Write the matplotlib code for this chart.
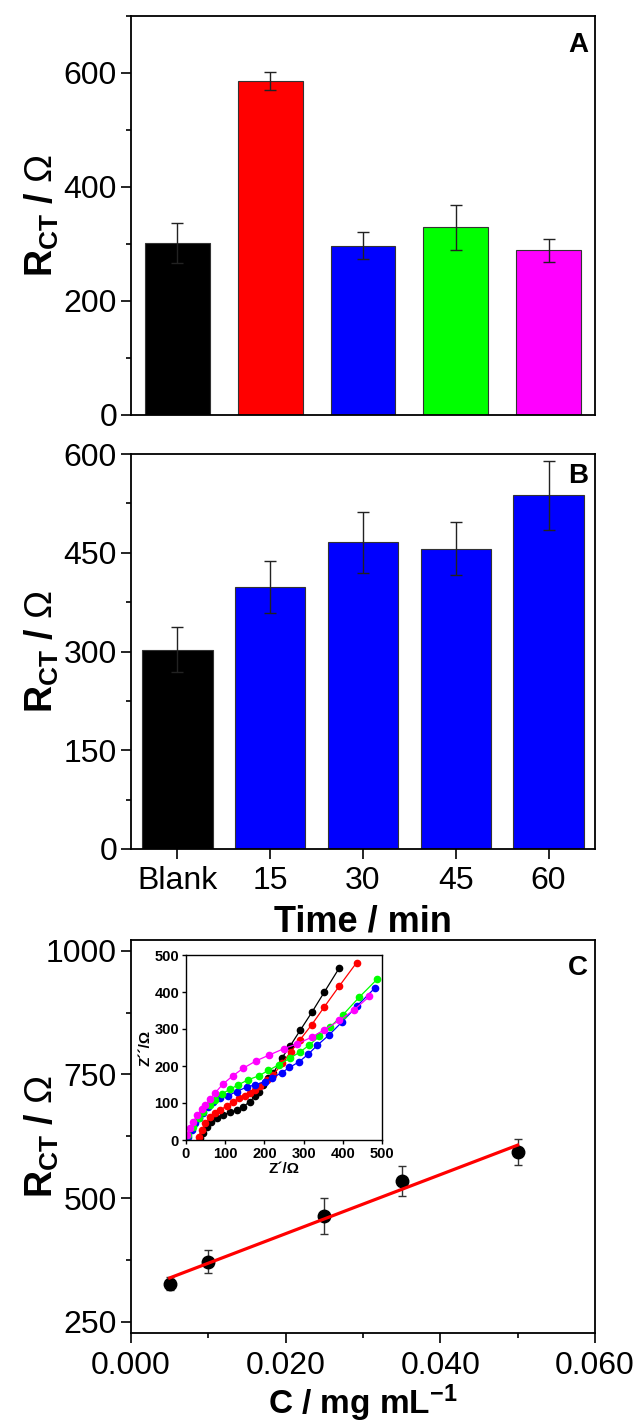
import numpy as np
import matplotlib
matplotlib.use("Agg")
import matplotlib.pyplot as plt
from matplotlib.ticker import MultipleLocator, FormatStrFormatter

plt.rcParams['font.family'] = ['Liberation Sans', 'DejaVu Sans']
plt.rcParams['mathtext.fontset'] = 'custom'
plt.rcParams['mathtext.rm'] = 'Liberation Sans'
plt.rcParams['mathtext.bf'] = 'Liberation Sans:bold'
plt.rcParams['mathtext.it'] = 'Liberation Sans:italic'

# panel A
a_vals = [302, 586, 297, 329, 289]
a_err = [35, 15, 24, 40, 20]
a_colors = ['#000000', '#ff0000', '#0000ff', '#00ff00', '#ff00ff']

# panel B
b_labels = ['Blank', '15', '30', '45', '60']
b_vals = [303, 398, 466, 456, 537]
b_err = [34, 40, 46, 40, 52]
b_colors = ['#000000', '#0000ff', '#0000ff', '#0000ff', '#0000ff']

# panel C
c_conc = [0.005, 0.010, 0.025, 0.035, 0.050]
c_rct = [327, 371, 464, 534, 593]
c_err = [14, 23, 36, 30, 27]

# inset (Nyquist plots), Z' and Z'' in ohm
black_zr = [36, 44, 53, 65, 78, 95, 112, 129, 146, 163, 176, 185, 196, 210, 223, 244, 265, 291, 321, 353, 391]
black_zi = [5, 18, 36, 50, 59, 68, 75, 81, 90, 104, 118, 131, 149, 167, 181, 221, 253, 296, 345, 400, 465]
red_zr = [32, 40, 49, 61, 74, 87, 104, 121, 136, 151, 163, 176, 189, 206, 223, 245, 267, 291, 321, 353, 391, 435]
red_zi = [9, 27, 45, 63, 72, 81, 92, 104, 113, 119, 127, 136, 145, 163, 176, 207, 238, 271, 312, 360, 416, 479]
blue_zr = [6, 15, 23, 32, 44, 57, 70, 87, 108, 129, 155, 176, 202, 219, 244, 264, 288, 312, 335, 366, 397, 437, 482]
blue_zi = [9, 27, 45, 59, 72, 90, 104, 113, 120, 131, 143, 149, 158, 167, 182, 196, 211, 232, 256, 285, 318, 363, 411]
green_zr = [6, 19, 32, 44, 60, 74, 91, 112, 133, 159, 185, 210, 236, 265, 291, 315, 340, 367, 401, 442, 487]
green_zi = [14, 36, 59, 77, 95, 108, 124, 137, 149, 163, 173, 188, 203, 221, 238, 257, 280, 305, 339, 386, 434]
mag_zr = [2, 10, 19, 29, 40, 49, 61, 74, 94, 119, 146, 179, 213, 250, 284, 321, 353, 391, 429, 468]
mag_zi = [14, 32, 50, 68, 83, 95, 110, 127, 151, 173, 194, 214, 230, 247, 260, 278, 298, 323, 352, 388]

W, H = 634, 1425
fig = plt.figure(figsize=(W / 100, H / 100), dpi=100)


def box(l, t, r, b):
    return [l / W, 1 - b / H, (r - l) / W, (b - t) / H]


def style(ax):
    for s in ax.spines.values():
        s.set_linewidth(1.3)
    ax.tick_params(which='both', direction='out', width=1.2, labelsize=23, pad=3,
                   top=False, right=False)
    ax.tick_params(which='major', length=7)
    ax.tick_params(which='minor', length=3.5)


ylab = r'$\mathbf{R_{CT}\ /\ }\Omega$'

# ---- A
axA = fig.add_axes(box(131, 16, 595, 415))
style(axA)
x = np.arange(len(a_vals))
axA.bar(x, a_vals, width=0.7, color=a_colors, edgecolor='#333333', linewidth=0.8,
        yerr=a_err, error_kw=dict(ecolor='#222222', elinewidth=1, capsize=4, capthick=1))
axA.set_xlim(-0.5, 4.5)
axA.set_ylim(0, 700)
axA.yaxis.set_major_locator(MultipleLocator(200))
axA.yaxis.set_minor_locator(MultipleLocator(100))
axA.set_xticks([])
axA.set_ylabel(ylab, fontsize=27)
axA.yaxis.set_label_coords(-0.15, 0.5)
axA.text(0.985, 0.96, 'A', transform=axA.transAxes, ha='right', va='top',
         fontsize=20, fontweight='bold')

# ---- B
axB = fig.add_axes(box(131, 454, 595, 849))
style(axB)
x = np.arange(len(b_vals))
axB.bar(x, b_vals, width=0.76, color=b_colors, edgecolor='#333333', linewidth=0.8,
        yerr=b_err, error_kw=dict(ecolor='#222222', elinewidth=1, capsize=4, capthick=1))
axB.set_xlim(-0.5, 4.5)
axB.set_ylim(0, 600)
axB.yaxis.set_major_locator(MultipleLocator(150))
axB.yaxis.set_minor_locator(MultipleLocator(75))
axB.set_xticks(x)
axB.set_xticklabels(b_labels)
axB.tick_params(axis='x', pad=5)
axB.set_xlabel('Time / min', fontsize=26, fontweight='bold', labelpad=6)
axB.set_ylabel(ylab, fontsize=27)
axB.yaxis.set_label_coords(-0.15, 0.5)
axB.text(0.985, 0.977, 'B', transform=axB.transAxes, ha='right', va='top',
         fontsize=20, fontweight='bold')

# ---- C
axC = fig.add_axes(box(131, 940, 595, 1333))
style(axC)
axC.errorbar(c_conc, c_rct, yerr=c_err, fmt='o', color='black', ms=9,
             ecolor='#333333', elinewidth=1, capsize=3, capthick=1, zorder=2)
k, b0 = np.polyfit(c_conc, c_rct, 1)
xf = np.array([min(c_conc), max(c_conc)])
axC.plot(xf, k * xf + b0, color='#ff0000', lw=2.3, zorder=3)
axC.set_xlim(0, 0.06)
axC.set_ylim(227, 1022)
axC.xaxis.set_major_locator(MultipleLocator(0.02))
axC.xaxis.set_minor_locator(MultipleLocator(0.01))
axC.xaxis.set_major_formatter(FormatStrFormatter('%.3f'))
axC.yaxis.set_major_locator(MultipleLocator(250))
axC.yaxis.set_minor_locator(MultipleLocator(125))
axC.tick_params(axis='x', pad=6)
axC.set_xlabel(r'C / mg mL$^{\mathbf{-1}}$', fontsize=24, fontweight='bold', labelpad=1)
axC.set_ylabel(ylab, fontsize=27)
axC.yaxis.set_label_coords(-0.15, 0.5)
axC.text(0.985, 0.962, 'C', transform=axC.transAxes, ha='right', va='top',
         fontsize=20, fontweight='bold')

# ---- inset
axI = fig.add_axes(box(186, 955, 382, 1140))
for s in axI.spines.values():
    s.set_linewidth(1.0)
series = [(black_zr, black_zi, '#000000'), (red_zr, red_zi, '#ff0000'),
          (blue_zr, blue_zi, '#0000ff'), (green_zr, green_zi, '#00ff00'),
          (mag_zr, mag_zi, '#ff00ff')]
for zr, zi, c in series:
    axI.plot(zr, zi, '-', color=c, lw=0.9)
    axI.plot(zr, zi, 'o', color=c, ms=4.5, mec=c)
axI.set_xlim(0, 500)
axI.set_ylim(0, 500)
axI.xaxis.set_major_locator(MultipleLocator(100))
axI.yaxis.set_major_locator(MultipleLocator(100))
axI.tick_params(which='both', direction='out', length=3, width=1, labelsize=10.5, pad=2)
for t in axI.get_xticklabels() + axI.get_yticklabels():
    t.set_fontweight('bold')
axI.set_xlabel('Z´/Ω', fontsize=11, fontweight='bold', labelpad=1)
axI.set_ylabel('Z´´/Ω', fontsize=11, fontweight='bold', labelpad=1)

fig.savefig('out.png', dpi=100)
